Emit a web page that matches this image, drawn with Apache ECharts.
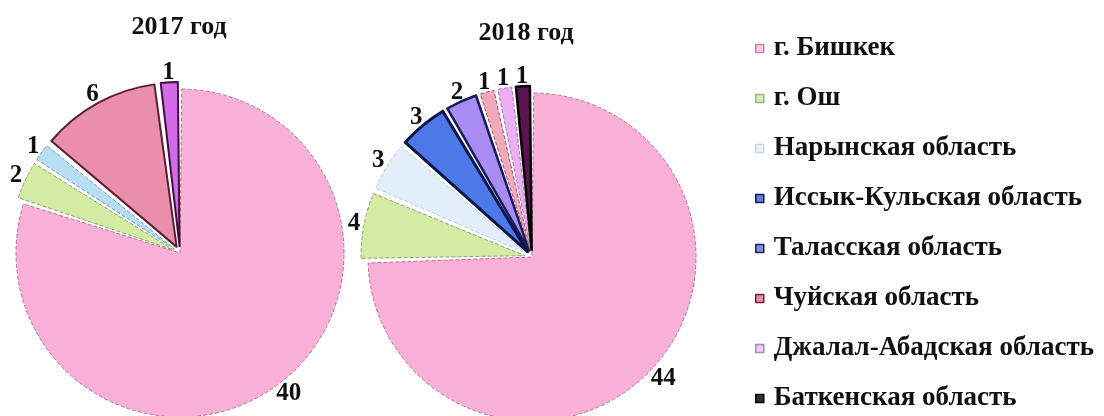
<!DOCTYPE html>
<html>
<head>
<meta charset="utf-8">
<script src="https://cdn.jsdelivr.net/npm/echarts@6/dist/echarts.min.js"></script>
<style>
  html, body { margin: 0; padding: 0; background: #ffffff; }
  #chart { width: 1104px; height: 416px; }
</style>
</head>
<body>
<div id="chart"></div>
<script>
// Regions (legend order = clockwise slice order)
const regions = [
  'г. Бишкек',
  'г. Ош',
  'Нарынская область',
  'Иссык-Кульская область',
  'Таласская область',
  'Чуйская область',
  'Джалал-Абадская область',
  'Баткенская область'
];
const years = ['2017 год', '2018 год'];
// 0 = region not present in that year
const values2017 = [40, 2, 1, 0, 0, 6, 1, 0];
const values2018 = [44, 4, 3, 3, 2, 1, 1, 1];

const SERIF = '"Liberation Serif", "DejaVu Serif", serif';

// Slice styles per year
const dash = (color, borderColor) => ({ color, borderColor, borderWidth: 1, borderType: 'dashed' });
const solid = (color, borderColor, borderWidth) => ({ color, borderColor, borderWidth });

const styles2017 = [
  dash('#f8b0d8', '#b8708f'),
  dash('#d3eba2', '#8aa070'),
  dash('#b8def4', '#6f98bb'),
  solid('#4c78e8', '#0a1448', 2.5),
  solid('#a88cf2', '#141a5a', 2.5),
  solid('#e98fa9', '#5c1c34', 2),
  solid('#d36ae8', '#40103c', 2),
  solid('#5a1450', '#000000', 2.5)
];
const styles2018 = [
  dash('#f8b0d8', '#b8708f'),
  dash('#d3eba2', '#8aa070'),
  dash('#e2eef9', '#b8cce0'),
  solid('#4c78e8', '#0a1448', 3),
  solid('#a88cf2', '#141a5a', 2.5),
  dash('#f0a8bc', '#a0506a'),
  dash('#ebb0f2', '#b070b0'),
  solid('#5a1450', '#000000', 2.5)
];

// Legend marker styles (light fill, darker outline)
const legendMarks = [
  ['#f4d0e4', '#d080a8'],
  ['#d8ecc0', '#90c070'],
  ['#eef2f6', '#c8d8e8'],
  ['#6080d0', '#101860'],
  ['#8090d0', '#182070'],
  ['#e090a8', '#801838'],
  ['#ecd0ee', '#b080c0'],
  ['#303030', '#000000']
];

function buildData(values, styles) {
  const out = [];
  values.forEach((v, i) => {
    if (v > 0) {
      out.push({
        name: regions[i],
        value: v,
        selected: i > 0,
        itemStyle: styles[i]
      });
    }
  });
  return out;
}

function pieSeries(values, styles, center) {
  return {
    type: 'pie',
    center: center,
    radius: 164,
    startAngle: 90,
    clockwise: true,
    padAngle: 1.2,
    selectedMode: 'multiple',
    selectedOffset: 7,
    avoidLabelOverlap: false,
    animation: false,
    emphasis: { disabled: true },
    label: {
      show: true,
      position: 'outside',
      formatter: '{c}',
      fontFamily: SERIF,
      fontSize: 25,
      fontWeight: 'bold',
      color: '#111111',
      distanceToLabelLine: 2
    },
    labelLine: { show: false, length: 10, length2: -8 },
    data: buildData(values, styles)
  };
}

const chart = echarts.init(document.getElementById('chart'), null, { renderer: 'canvas' });

const titleText = { fontFamily: SERIF, fontSize: 26, fontWeight: 'bold', color: '#111111' };

chart.setOption({
  backgroundColor: '#ffffff',
  animation: false,
  title: [
    { text: years[0], left: 179, top: 14, textAlign: 'center', padding: 0, textStyle: titleText },
    { text: years[1], left: 526, top: 20, textAlign: 'center', padding: 0, textStyle: titleText }
  ],
  legend: {
    orient: 'vertical',
    left: 755,
    top: 35,
    height: 380,
    padding: 0,
    icon: 'rect',
    itemWidth: 8,
    itemHeight: 8,
    itemGap: 23,
    selectedMode: false,
    textStyle: {
      fontFamily: SERIF,
      fontSize: 27,
      fontWeight: 'bold',
      lineHeight: 27,
      color: '#111111',
      padding: [0, 0, 0, 5]
    },
    data: regions.map((r, i) => ({
      name: r,
      itemStyle: { color: legendMarks[i][0], borderColor: legendMarks[i][1], borderWidth: 1.5 }
    }))
  },
  series: [
    pieSeries(values2017, styles2017, [180, 253]),
    pieSeries(values2018, styles2018, [532, 257])
  ]
});
</script>
</body>
</html>
